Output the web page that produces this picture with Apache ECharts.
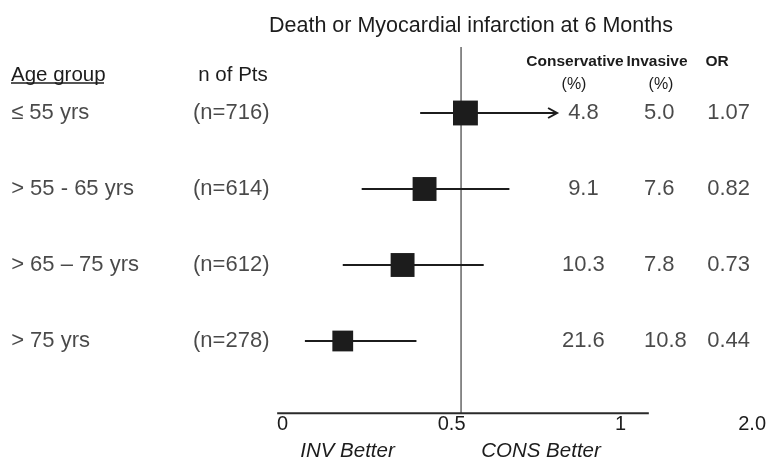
<!DOCTYPE html>
<html>
<head>
<meta charset="utf-8">
<script src="https://cdn.jsdelivr.net/npm/echarts@6/dist/echarts.min.js"></script>
<style>html,body{margin:0;padding:0;background:#fff}#c{width:769px;height:468px}</style>
</head>
<body>
<div id="c"></div>
<script>
// ---- data ----
const titleText = 'Death or Myocardial infarction at 6 Months';
const ageGroups = ['\u2264 55 yrs', '> 55 - 65 yrs', '> 65 \u2013 75 yrs', '> 75 yrs'];
const nPts = [716, 614, 612, 278];
const consPct = ['4.8', '9.1', '10.3', '21.6'];
const invPct = ['5.0', '7.6', '7.8', '10.8'];
const oddsRatio = ['1.07', '0.82', '0.73', '0.44'];
// plotted marks (axis units)
const pointEst = [0.541, 0.420, 0.355, 0.178];
const ciLow = [0.407, 0.234, 0.178, 0.066];
const ciHigh = [0.812, 0.671, 0.595, 0.396];
const ciTruncated = [1, 0, 0, 0];
const refValue = 0.528;
const tickValues = [0, 0.5, 1, 1.389];
const tickLabels = ['0', '0.5', '1', '2.0'];

// ---- layout / style ----
const FONT = '"Liberation Sans", Arial, Helvetica, sans-serif';
const INK = '#1c1c1c';
const rows = ageGroups.map((_, i) => i + 1);
const yBottom = 4.95;

function textSeries(texts, xPos, align, size) {
  return {
    type: 'scatter', silent: true, clip: false, symbolSize: 1,
    itemStyle: { color: 'transparent' },
    data: texts.map((t, i) => ({ value: [xPos, rows[i]], label: { formatter: String(t) } })),
    label: { show: true, position: 'inside', align: align, verticalAlign: 'middle',
      fontFamily: FONT, fontSize: size, color: INK },
    z: 5
  };
}

const chart = echarts.init(document.getElementById('c'), null, { renderer: 'canvas' });
chart.setOption({
  animation: false,
  backgroundColor: '#fff',
  title: {
    text: titleText, left: 264, top: 10,
    textStyle: { fontFamily: FONT, fontSize: 21.5, fontWeight: 'normal', color: INK }
  },
  grid: { left: 0, right: 0, top: 37, bottom: 54.8, containLabel: false },
  xAxis: {
    type: 'value', min: -0.836, max: 1.431,
    axisLine: { show: false }, axisTick: { show: false }, splitLine: { show: false },
    axisLabel: {
      customValues: tickValues, margin: 1,
      formatter: (v) => { const k = tickValues.indexOf(v); return k >= 0 ? tickLabels[k] : ''; },
      fontFamily: FONT, fontSize: 20, color: INK
    }
  },
  yAxis: { type: 'value', min: 0, max: yBottom, inverse: true, show: false },
  graphic: [
    { type: 'text', x: 11, y: 75, style: { text: 'Age group', font: '20.5px ' + FONT, fill: INK, align: 'left', verticalAlign: 'middle' } },
    { type: 'line', shape: { x1: 11, y1: 83, x2: 104, y2: 83 }, style: { stroke: INK, lineWidth: 1.3 } },
    { type: 'text', x: 233, y: 75, style: { text: 'n of Pts', font: '20.5px ' + FONT, fill: INK, align: 'center', verticalAlign: 'middle' } },
    { type: 'text', x: 575, y: 62, style: { text: 'Conservative', font: 'bold 15.5px ' + FONT, fill: INK, align: 'center', verticalAlign: 'middle' } },
    { type: 'text', x: 657, y: 62, style: { text: 'Invasive', font: 'bold 15.5px ' + FONT, fill: INK, align: 'center', verticalAlign: 'middle' } },
    { type: 'text', x: 717, y: 62, style: { text: 'OR', font: 'bold 15.5px ' + FONT, fill: INK, align: 'center', verticalAlign: 'middle' } },
    { type: 'text', x: 574, y: 85, style: { text: '(%)', font: '16px ' + FONT, fill: INK, align: 'center', verticalAlign: 'middle' } },
    { type: 'text', x: 661, y: 85, style: { text: '(%)', font: '16px ' + FONT, fill: INK, align: 'center', verticalAlign: 'middle' } },
    { type: 'text', x: 347.5, y: 451, style: { text: 'INV Better', font: 'italic 20.5px ' + FONT, fill: INK, align: 'center', verticalAlign: 'middle' } },
    { type: 'text', x: 541, y: 451, style: { text: 'CONS Better', font: 'italic 20.5px ' + FONT, fill: INK, align: 'center', verticalAlign: 'middle' } }
  ],
  series: [
    { // reference line
      type: 'line', silent: true, clip: false, symbol: 'none',
      data: [[refValue, 0.13], [refValue, yBottom]],
      lineStyle: { color: '#666', width: 1.5 }, z: 1
    },
    { // axis line
      type: 'line', silent: true, clip: false, symbol: 'none',
      data: [[-0.016, yBottom], [1.0835, yBottom]],
      lineStyle: { color: '#2a2a2a', width: 2 }, z: 1
    },
    { // confidence intervals
      type: 'custom', silent: true, clip: false,
      data: rows.map((r, i) => [ciLow[i], ciHigh[i], r, ciTruncated[i]]),
      renderItem: (params, api) => {
        const a = api.coord([api.value(0), api.value(2)]);
        const b = api.coord([api.value(1), api.value(2)]);
        const st = { stroke: INK, lineWidth: 2, fill: 'none' };
        const children = [{ type: 'line', shape: { x1: a[0], y1: a[1], x2: b[0], y2: b[1] }, style: st }];
        if (api.value(3)) {
          children.push({ type: 'polyline', shape: { points: [[b[0] - 9, b[1] - 5], [b[0], b[1]], [b[0] - 9, b[1] + 5]] }, style: st });
        }
        return { type: 'group', children: children };
      },
      z: 2
    },
    { // point estimates
      type: 'scatter', silent: true, clip: false, symbol: 'rect',
      data: rows.map((r, i) => ({ value: [pointEst[i], r], symbolSize: 18.2 + 0.0093 * nPts[i] })),
      itemStyle: { color: '#1c1c1c', opacity: 1 },
      z: 3
    },
    textSeries(ageGroups, -0.803, 'left', 22),
    textSeries(nPts.map(n => '(n=' + n + ')'), -0.265, 'left', 22),
    textSeries(consPct, 0.890, 'center', 22),
    textSeries(invPct, 1.069, 'left', 22),
    textSeries(oddsRatio, 1.256, 'left', 22)
  ]
});
</script>
</body>
</html>
